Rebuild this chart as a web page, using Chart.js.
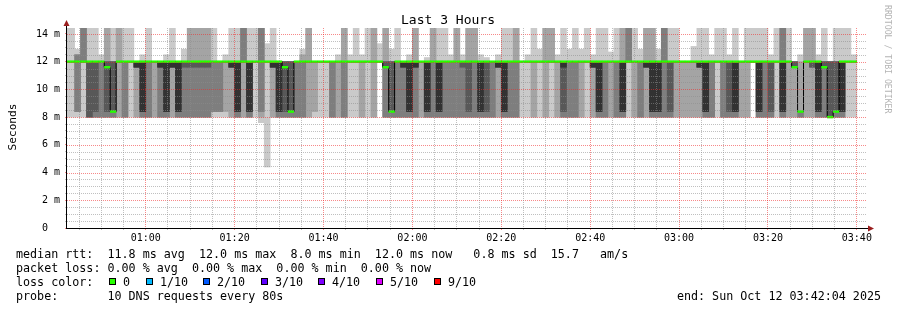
<!DOCTYPE html>
<html>
<head>
<meta charset="utf-8">
<script src="https://cdn.jsdelivr.net/npm/chart.js@4.4.1/dist/chart.umd.min.js"></script>
<style>
  html, body { margin: 0; padding: 0; background: #fff; }
  #wrap { width: 897px; height: 310px; }
</style>
</head>
<body>
<div id="wrap"><canvas id="smoke" width="897" height="310"></canvas></div>
<script>
// ---- data ----
const title = 'Last 3 Hours';
const yAxisTitle = 'Seconds';
const watermark = 'RRDTOOL / TOBI OETIKER';
const graphStart = '00:42:17';
const graphEnd = '03:42:17';
const firstSample = '00:41:20';   // start of the first (partly hidden) 80 s step
const stepSeconds = 80;

const timeLabels = ['01:00', '01:20', '01:40', '02:00', '02:20', '02:40', '03:00', '03:20', '03:40'];
const yTicksMs = [0, 2, 4, 6, 8, 10, 12, 14];
const yTickLabels = ['0  ', '2 m', '4 m', '6 m', '8 m', '10 m', '12 m', '14 m'];
const yMaxMs = 14.43;

// median rtt per step (ms)
const medians = [
  12, 12, 12, 12, 12, 12, 12, 11.6, 8.4, 12,
  12, 12, 12, 12, 12, 12, 12, 12, 12, 12,
  12, 12, 12, 12, 12, 12, 12, 12, 12, 12,
  12, 12, 12, 12, 12, 12, 12, 11.6, 8.4, 12,
  12, 12, 12, 12, 12, 12, 12, 12, 12, 12,
  12, 12, 12, 12, 11.6, 8.4, 12, 12, 12, 12,
  12, 12, 12, 12, 12, 12, 12, 12, 12, 12,
  12, 12, 12, 12, 12, 12, 12, 12, 12, 12,
  12, 12, 12, 12, 12, 12, 12, 12, 12, 12,
  12, 12, 12, 12, 12, 12, 12, 12, 12, 12,
  12, 12, 12, 12, 12, 12, 12, 12, 12, 12,
  12, 12, 12, 12, 12, 12, 12, 12, 12, 12,
  12, 12, 12, 11.6, 8.4, 12, 12, 12, 11.6, 8,
  8.4, 12, 12, 12
];

// the ten sorted DNS reply times of every step (ms)
const pings = [
  [8,12,12,12,12,12,12,12,12,16],
  [8,12,12,12,12,12,12,12,12,16],
  [8,8.4,8.4,12,12,12,12,12.5,12.5,12.9],
  [8,12,12,12,12,12,12,16,16,16],
  [8,8,8,8,12,12,12,12,12,16],
  [8,8,8,8.4,12,12,12,12,12,16],
  [8,8,8,12,12,12,12,12,12,12.5],
  [8,8,8,8.4,11.6,11.6,12,12,16,16],
  [8,8,8,8.4,8.4,8.4,12,12,12,16],
  [8,8,12,12,12,12,12,12,16,16],
  [8,8,8,12,12,12,12,12,12,16],
  [8,12,12,12,12,12,12,12,12,16],
  [8,8,11.6,11.6,11.6,12,12,12,12,12],
  [8,8,8,8.4,8.4,12,12,12,12,12.5],
  [8,8,8,12,12,12,12,12,12,16],
  [8,8,12,12,12,12,12,12,12,12],
  [8,8,8,11.6,11.6,12,12,12,12,12],
  [8,8,8,8.4,8.4,12,12,12,12,12.5],
  [8,8,11.6,11.6,11.6,12,12,12,12,16],
  [8,8,8,8.4,8.4,12,12,12,12,12],
  [8,8,8,11.6,12,12,12,12,12,12.9],
  [8,8,8,11.6,12,12,12,12,16,16],
  [8,8,8,11.6,12,12,12,12,16,16],
  [8,8,8,11.6,12,12,12,12,16,16],
  [8,8,8,11.6,12,12,12,12,16,16],
  [8,8.4,8.4,12,12,12,12,12,12,16],
  [8,8.4,8.4,12,12,12,12,12,12,12],
  [8,8.4,12,12,12,12,12,12,12,12.5],
  [8,8,11.6,11.6,11.6,12,12,12,12,16],
  [8,8,8,8.4,8.4,12,12,12,12,16],
  [8,8,12,12,12,12,12,16,16,16],
  [8,8,8,8.4,8.4,12,12,12,12,16],
  [8,12,12,12,12,12,12,12,12,16],
  [7.6,8,8.4,12,12,12,12,16,16,16],
  [4.4,12,12,12,12,12,12,12,12,13.3],
  [8,8,11.6,11.6,11.6,12,12,12,12,16],
  [8,8,8,8.4,8.4,12,12,12,12,12],
  [8,8,8,8.4,11.6,11.6,12,12,12,12],
  [8,8,8,8.4,8.4,8.4,12,12,12,12],
  [8,8,8,12,12,12,12,12,12,12],
  [8,8,8,12,12,12,12,12,12.5,12.9],
  [8,8,12,12,12,12,12,12,16,16],
  [8,8.4,12,12,12,12,12,12,12,12],
  [8,12,12,12,12,12,12,12,12,12],
  [8,12,12,12,12,12,12,12,12,12],
  [8,8,8,12,12,12,12,12,12,12],
  [8,8,12,12,12,12,12,12,12,12.5],
  [8,8,8,12,12,12,12,12,16,16],
  [8,12,12,12,12,12,12,12,12,12.5],
  [8,12,12,12,12,12,12,12,12,16],
  [8,8,12,12,12,12,12,12,12,12.5],
  [8,12,12,12,12,12,12,12,12,16],
  [8,8,12,12,12,12,12,12,16,16],
  [12,12,12,12,12,12,12,12,12,13.3],
  [8,8,8,11.6,11.6,11.6,12,12,16,16],
  [8,8,8,8.4,8.4,8.4,12,12,12,12.9],
  [8,8,8,12,12,12,12,12,12,16],
  [8,8,8,11.6,11.6,12,12,12,12,12],
  [8,8,8,8.4,8.4,12,12,12,12,12.5],
  [8,8,8,11.6,11.6,12,12,12,16,16],
  [8,8,12,12,12,12,12,12,12,12],
  [8,8,8,8.4,8.4,12,12,12,12,12.3],
  [8,8,8,12,12,12,12,12,16,16],
  [8,8,8,8.4,8.4,12,12,12,12,16],
  [8,8,8,12,12,12,12,12,12,16],
  [8,8,8,12,12,12,12,12,12,12.5],
  [8,8,8,12,12,12,12,12,16,16],
  [8,8,8,11.6,12,12,12,12,12,12.5],
  [8,8,8,8.4,12,12,12,12,16,16],
  [8,8,8,12,12,12,12,12,16,16],
  [8,8,8,8.4,8.4,12,12,12,12,12.5],
  [8,8,8,8.4,12,12,12,12,12,12.3],
  [8,8,8,12,12,12,12,12,12,12],
  [8,8,11.6,11.6,11.6,12,12,12,12,12.5],
  [8,8,8,8.4,8.4,12,12,12,12,16],
  [8,8,8,12,12,12,12,12,12,16],
  [8,8,8,12,12,12,12,12,16,16],
  [8,12,12,12,12,12,12,12,12,12],
  [8,12,12,12,12,12,12,12,12,12.5],
  [8,8,12,12,12,12,12,12,12,16],
  [8,12,12,12,12,12,12,12,12,12.9],
  [8,8,12,12,12,12,12,12,16,16],
  [8,12,12,12,12,12,12,12,16,16],
  [8,8,12,12,12,12,12,12,12,12.5],
  [8,8,8,8.4,11.6,12,12,12,12,16],
  [8,8,8,12,12,12,12,12,12,12.9],
  [8,8,8,12,12,12,12,12,12,16],
  [8,8,12,12,12,12,12,12,12,12.9],
  [8,12,12,12,12,12,12,12,12,16],
  [8,8,11.6,11.6,11.6,12,12,12,12,12.5],
  [8,8,8,8.4,8.4,12,12,12,12,16],
  [8,8,8,12,12,12,12,12,12,16],
  [8,8,12,12,12,12,12,12,12,12.7],
  [8,8,8,12,12,12,12,12,12,16],
  [8,8,8,8.4,8.4,12,12,12,16,16],
  [8,12,12,12,12,12,12,16,16,16],
  [8,8,12,12,12,12,12,12,12,16],
  [8,8,8,12,12,12,12,12,12,12.9],
  [8,8,11.6,11.6,11.6,12,12,12,16,16],
  [8,8,8,8.4,8.4,12,12,12,16,16],
  [8,8,8,8.4,8.4,12,12,12,12,12.9],
  [8,8,8,12,12,12,12,16,16,16],
  [8,8,8,8.4,12,12,12,12,12,16],
  [8,8,12,12,12,12,12,12,12,16],
  [8,8,12,12,12,12,12,12,12,12],
  [8,8,12,12,12,12,12,12,12,12],
  [8,8,12,12,12,12,12,12,12,13.1],
  [8,8,11.6,11.6,11.6,12,12,12,12,16],
  [8,8,8,8.4,8.4,12,12,12,12,16],
  [8,8,8,12,12,12,12,12,12,12.5],
  [8,12,12,12,12,12,12,12,12,16],
  [8,8,8,12,12,12,12,12,12,16],
  [8,8,8,8.4,12,12,12,12,12,12.5],
  [8,8,8,8.4,8.4,12,12,12,12,16],
  [8,8,12,12,12,12,12,12,12,12],
  [8,8,12,12,12,12,12,12,12,16],
  [12,12,12,12,12,12,12,12,12,16],
  [8,8,8,8.4,8.4,12,12,12,12,16],
  [8,8,8,12,12,12,12,12,12,16],
  [8,8,8,8.4,12,12,12,12,12,12.5],
  [8,12,12,12,12,12,12,12,12,16],
  [8,8,8,8.4,8.4,12,12,16,16,16],
  [8,8,12,12,12,12,12,12,12,16],
  [8,8,11.6,11.6,11.6,11.6,12,12,12,12],
  [8,8,8,8.4,8.4,8.4,8.4,8.4,12,12.5],
  [8,8,12,12,12,12,12,12,16,16],
  [8,8,11.6,11.6,12,12,12,12,16,16],
  [8,8,8,8.4,8.4,12,12,12,12,12.5],
  [8,8,8,11.6,11.6,11.6,12,12,12,16],
  [8,8,8,8,8,8,12,12,12,12],
  [8,8,8,8.4,8.4,8.4,12,12,12,16],
  [8,8,8,8.4,8.4,12,12,12,12,16],
  [8,12,12,12,12,12,12,12,12,16],
  [8,12,12,12,12,12,12,12,12,12.5]
];

const legendLines = [
  'median rtt:  11.8 ms avg  12.0 ms max  8.0 ms min  12.0 ms now   0.8 ms sd  15.7   am/s',
  'packet loss: 0.00 % avg  0.00 % max  0.00 % min  0.00 % now',
  'loss color:',
  'probe:       10 DNS requests every 80s'
];
const endLabel = 'end: Sun Oct 12 03:42:04 2025';
const lossLabels = ['0', '1/10', '2/10', '3/10', '4/10', '5/10', '9/10'];
const lossColors = ['#26ff00', '#00b8ff', '#0059ff', '#5e00ff', '#7e00ff', '#dd00ff', '#ff0000'];

// ---- styles ----
const smokeGreys = ['#cacaca', '#a4a4a4', '#7e7e7e', '#585858', '#323232'];
const gridMinor = 'rgba(140,140,140,0.55)';
const gridMajor = 'rgba(240,40,40,0.55)';
const mono = '"DejaVu Sans Mono", monospace';

const toMinutes = s => {
  const [h, m, sec] = s.split(':').map(Number);
  return h * 60 + m + (sec || 0) / 60;
};
const xMin = toMinutes(graphStart);
const xMax = toMinutes(graphEnd);
const col0 = toMinutes(firstSample);
const stepMin = stepSeconds / 60;
const centers = pings.map((_, i) => col0 + (i + 0.5) * stepMin);
const majorMinutes = timeLabels.map(toMinutes);
const isMajorX = v => majorMinutes.some(m => Math.abs(m - v) < 1e-6);
const isMajorY = v => yTicksMs.some(t => Math.abs(t - v) < 1e-6);

// smoke: band b spans the b-th fastest to the b-th slowest ping
const bandDatasets = smokeGreys.map((grey, b) => ({
  type: 'bar',
  label: 'ping ' + (b + 1) + '-' + (10 - b),
  data: pings.map((p, i) => ({ x: centers[i], y: p[b] === p[9 - b] ? null : [p[b], p[9 - b]] })),
  backgroundColor: grey,
  borderWidth: 0,
  grouped: false,
  barPercentage: 1,
  categoryPercentage: 1,
  order: 6 - b
}));

const medianPoints = medians.map((m, i) => ({ x: centers[i], y: m }));

// dotted rrdtool-style grid (1 on / 1 off pixels), drawn over the smoke
const rrdGrid = {
  id: 'rrdGrid',
  afterDatasetsDraw(chart) {
    const { ctx, chartArea: { left, right, top, bottom }, scales: { x, y } } = chart;
    ctx.save();
    y.ticks.forEach(t => {
      if (t.value === 0) return;
      const row = Math.round(y.getPixelForValue(t.value));
      ctx.fillStyle = isMajorY(t.value) ? gridMajor : gridMinor;
      for (let px = left; px < right; px += 2) ctx.fillRect(px, row, 1, 1);
    });
    x.ticks.forEach(t => {
      const col = Math.floor(x.getPixelForValue(t.value));
      ctx.fillStyle = isMajorX(t.value) ? gridMajor : gridMinor;
      for (let py = top; py < bottom; py += 2) ctx.fillRect(col, py, 1, 1);
    });
    ctx.restore();
  }
};

const rrdDecor = {
  id: 'rrdDecor',
  afterDraw(chart) {
    const ctx = chart.ctx;
    const { left, right, top, bottom } = chart.chartArea;
    ctx.save();

    // axes and arrows
    ctx.strokeStyle = '#000';
    ctx.lineWidth = 1;
    ctx.beginPath();
    ctx.moveTo(left - 0.5, bottom + 1);
    ctx.lineTo(left - 0.5, top - 2);
    ctx.moveTo(left - 1, bottom + 0.5);
    ctx.lineTo(right + 1, bottom + 0.5);
    ctx.stroke();
    ctx.fillStyle = '#9a1e1e';
    ctx.beginPath();
    ctx.moveTo(left - 3.5, top - 2);
    ctx.lineTo(left + 2.5, top - 2);
    ctx.lineTo(left - 0.5, top - 8);
    ctx.closePath();
    ctx.fill();
    ctx.beginPath();
    ctx.moveTo(right + 1, bottom - 2.5);
    ctx.lineTo(right + 1, bottom + 3.5);
    ctx.lineTo(right + 7, bottom + 0.5);
    ctx.closePath();
    ctx.fill();

    // title
    ctx.fillStyle = '#000';
    ctx.font = '13px ' + mono;
    ctx.textAlign = 'center';
    ctx.textBaseline = 'alphabetic';
    ctx.fillText(title, 448, 24);

    // vertical axis title
    ctx.save();
    ctx.translate(16, 127);
    ctx.rotate(-Math.PI / 2);
    ctx.font = '11.1px ' + mono;
    ctx.fillText(yAxisTitle, 0, 0);
    ctx.restore();

    // watermark
    ctx.save();
    ctx.translate(885, 5);
    ctx.rotate(Math.PI / 2);
    ctx.textAlign = 'left';
    ctx.fillStyle = '#b4b4b4';
    ctx.font = '8.2px ' + mono;
    ctx.fillText(watermark, 0, 0);
    ctx.restore();

    // legend
    ctx.textAlign = 'left';
    ctx.font = '11.7px ' + mono;
    legendLines.forEach((line, i) => ctx.fillText(line, 16, 258 + i * 14));
    const boxX = [109, 146, 203, 261, 318, 376, 434];
    lossLabels.forEach((lab, i) => {
      ctx.fillStyle = lossColors[i];
      ctx.fillRect(boxX[i], 278, 7, 7);
      ctx.strokeStyle = '#000';
      ctx.strokeRect(boxX[i] + 0.5, 278.5, 6, 6);
      ctx.fillStyle = '#000';
      ctx.fillText(lab, boxX[i] + 14, 286);
    });
    ctx.textAlign = 'right';
    ctx.fillText(endLabel, 881, 300);

    ctx.restore();
  }
};

new Chart(document.getElementById('smoke'), {
  type: 'bar',
  data: {
    datasets: [
      {
        type: 'line',
        label: 'median rtt',
        data: medianPoints,
        showLine: false,
        pointStyle: 'line',
        pointRadius: 3.1,
        pointBorderWidth: 2.5,
        pointBorderColor: lossColors[0],
        pointBackgroundColor: lossColors[0],
        order: 0
      },
      {
        type: 'line',
        label: 'median steps',
        data: medianPoints,
        stepped: 'middle',
        borderColor: '#000',
        borderWidth: 1,
        pointRadius: 0,
        fill: false,
        order: 1
      },
      ...bandDatasets
    ]
  },
  options: {
    responsive: false,
    animation: false,
    devicePixelRatio: 1,
    events: [],
    layout: { padding: { top: 28, right: 30, left: 0, bottom: 0 } },
    plugins: {
      legend: { display: false },
      title: { display: false },
      tooltip: { enabled: false }
    },
    scales: {
      x: {
        type: 'linear',
        min: xMin,
        max: xMax,
        offset: false,
        afterBuildTicks: scale => {
          const ticks = [];
          for (let m = Math.ceil(xMin / 5) * 5; m <= xMax; m += 5) ticks.push({ value: m });
          scale.ticks = ticks;
        },
        afterFit: scale => { scale.height = 82; },
        ticks: {
          autoSkip: false,
          maxRotation: 0,
          minRotation: 0,
          padding: 2,
          color: '#000',
          font: { family: mono, size: 10 },
          callback: value => {
            const i = majorMinutes.findIndex(m => Math.abs(m - value) < 1e-6);
            return i >= 0 ? timeLabels[i] : '';
          }
        },
        grid: {
          offset: false,
          drawOnChartArea: false,
          tickColor: c => (c.tick && isMajorX(c.tick.value) ? gridMajor : gridMinor),
          tickLength: 2
        },
        border: { display: false }
      },
      y: {
        type: 'linear',
        min: 0,
        max: yMaxMs,
        afterBuildTicks: scale => {
          const ticks = [];
          for (let v = 0; v <= yTicksMs[yTicksMs.length - 1]; v += 0.5) ticks.push({ value: v });
          scale.ticks = ticks;
        },
        afterFit: scale => { scale.width = 67; },
        ticks: {
          autoSkip: false,
          padding: 5,
          color: '#000',
          font: { family: mono, size: 10 },
          callback: value => {
            const i = yTicksMs.findIndex(t => Math.abs(t - value) < 1e-6);
            return i >= 0 ? yTickLabels[i] : '';
          }
        },
        grid: {
          drawOnChartArea: false,
          tickColor: c => (c.tick && isMajorY(c.tick.value) ? gridMajor : gridMinor),
          tickLength: 2
        },
        border: { display: false }
      }
    }
  },
  plugins: [rrdGrid, rrdDecor]
});
</script>
</body>
</html>
